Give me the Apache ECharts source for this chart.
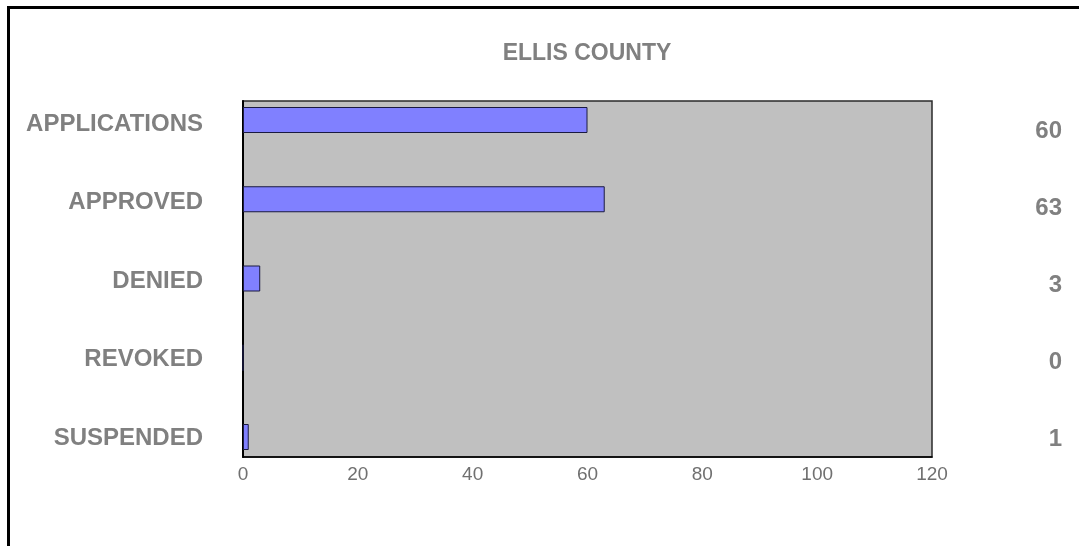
<!DOCTYPE html>
<html>
<head>
<meta charset="utf-8">
<title>ELLIS COUNTY</title>
<script src="https://cdn.jsdelivr.net/npm/echarts@6/dist/echarts.min.js"></script>
<style>
    html, body { margin: 0; padding: 0; background: #fff; }
    #chart { position: absolute; left: 0; top: 0; width: 1079px; height: 546px; }
    #frame {
        position: absolute; left: 7px; top: 6px; width: 1200px; height: 700px;
        border-left: 3px solid #000; border-top: 3px solid #000; pointer-events: none;
    }
</style>
</head>
<body>
<div id="chart"></div>
<div id="frame"></div>
<script>
    // data
    var titleText = 'ELLIS COUNTY';
    var categories = ['APPLICATIONS', 'APPROVED', 'DENIED', 'REVOKED', 'SUSPENDED'];
    var counts = [60, 63, 3, 0, 1];
    var axisMin = 0;
    var axisMax = 120;
    var axisStep = 20;

    var font = 'Arial, "Liberation Sans", sans-serif';
    var grey = '#808080';

    var myChart = echarts.init(document.getElementById('chart'));

    var option = {
        animation: false,
        title: {
            text: titleText,
            left: 582,
            top: 37,
            textAlign: 'center',
            textStyle: {color: grey, fontSize: 23, fontWeight: 'bold', fontFamily: font}
        },
        grid: [
            // gray plot area with the value axis
            {left: 243, top: 101, width: 689, height: 356, show: true,
                backgroundColor: '#C0C0C0', borderColor: '#2a2a2a', borderWidth: 1.5},
            // bars
            {left: 243, top: 120, width: 689, height: 317},
            // value labels on the right
            {left: 243, top: 131, width: 689, height: 308},
            // category labels on the left
            {left: 243, top: 124, width: 689, height: 314}
        ],
        xAxis: [
            {
                gridIndex: 0, type: 'value', min: axisMin, max: axisMax, interval: axisStep,
                axisLine: {show: true, lineStyle: {color: '#000', width: 1.5}},
                axisTick: {show: false},
                splitLine: {show: false},
                axisLabel: {color: '#707070', fontSize: 19, fontFamily: font, margin: 8}
            },
            {gridIndex: 1, type: 'value', min: axisMin, max: axisMax, show: false},
            {gridIndex: 2, type: 'value', min: axisMin, max: axisMax, show: false},
            {gridIndex: 3, type: 'value', min: axisMin, max: axisMax, show: false}
        ],
        yAxis: [
            {
                gridIndex: 0, type: 'value',
                axisLine: {show: true, lineStyle: {color: '#000', width: 2}},
                axisTick: {show: false},
                axisLabel: {show: false},
                splitLine: {show: false}
            },
            {gridIndex: 1, type: 'category', data: categories, inverse: true, boundaryGap: false, show: false},
            {
                gridIndex: 2, type: 'category', position: 'right', inverse: true, boundaryGap: false,
                data: counts.map(function (v) { return String(v); }),
                axisLine: {show: false},
                axisTick: {show: false},
                axisLabel: {color: grey, fontSize: 24, fontWeight: 'bold', fontFamily: font,
                    margin: 130, align: 'right'}
            },
            {
                gridIndex: 3, type: 'category', data: categories, inverse: true, boundaryGap: false,
                axisLine: {show: false},
                axisTick: {show: false},
                axisLabel: {color: grey, fontSize: 24, fontWeight: 'bold', fontFamily: font, margin: 40}
            }
        ],
        series: [{
            name: titleText,
            type: 'bar',
            xAxisIndex: 1,
            yAxisIndex: 1,
            data: counts,
            barWidth: 26,
            itemStyle: {color: '#8080FF', borderColor: '#1a1a40', borderWidth: 1}
        }]
    };

    myChart.setOption(option);
</script>
</body>
</html>
